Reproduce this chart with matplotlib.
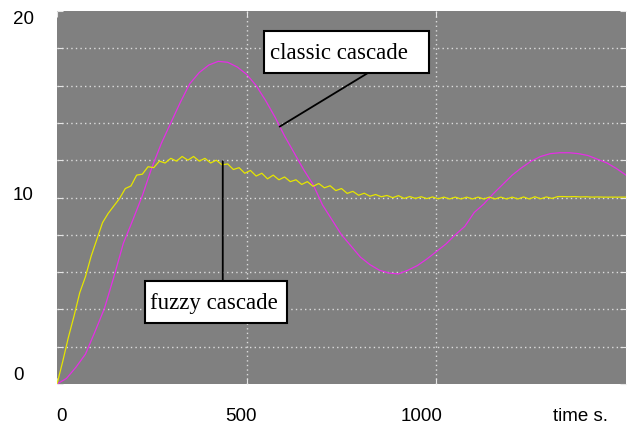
import matplotlib.pyplot as plt
from matplotlib.patches import Rectangle
import numpy as np

# classic cascade response (magenta)
t_classic = [0, 25, 50, 75, 100, 125, 150, 175, 200, 225, 250, 275, 300, 325, 350,
             375, 400, 425, 450, 475, 500, 525, 550, 575, 600, 625, 650, 675, 700,
             725, 750, 775, 800, 825, 850, 875, 900, 925, 950, 975, 1000, 1025,
             1050, 1075, 1100, 1125, 1150, 1175, 1200, 1225, 1250, 1275, 1300,
             1325, 1350, 1375, 1400, 1425, 1450, 1475, 1500]
y_classic = [0.0, 0.3, 0.9, 1.6, 2.8, 4.05, 5.75, 7.55, 8.8, 10.1, 11.6, 12.9, 14.0,
             15.1, 16.1, 16.7, 17.1, 17.3, 17.25, 17.0, 16.6, 16.0, 15.2, 14.3, 13.3,
             12.4, 11.5, 10.7, 9.6, 8.8, 8.0, 7.4, 6.8, 6.4, 6.1, 5.95, 5.9, 6.1,
             6.35, 6.7, 7.1, 7.5, 8.0, 8.45, 9.2, 9.65, 10.2, 10.7, 11.2, 11.6,
             11.95, 12.2, 12.35, 12.4, 12.4, 12.35, 12.25, 12.05, 11.85, 11.55, 11.2]

# fuzzy cascade response (yellow), one sample every 15 s
t_fuzzy = np.arange(0, 1501, 15)
y_fuzzy = [0.0, 1.2, 2.5, 3.65, 4.9, 5.75, 6.85, 7.75, 8.65, 9.15,
           9.55, 9.95, 10.48, 10.62, 11.2, 11.25, 11.65, 11.6, 11.95, 11.85,
           12.1, 11.95, 12.2, 12.0, 12.2, 11.95, 12.1, 11.85, 12.0, 11.75,
           11.8, 11.5, 11.6, 11.3, 11.45, 11.15, 11.3, 11.0, 11.2, 10.95,
           11.1, 10.85, 10.95, 10.7, 10.85, 10.6, 10.75, 10.52, 10.63, 10.37,
           10.48, 10.22, 10.33, 10.12, 10.23, 10.07, 10.16, 10.04, 10.11, 9.99,
           10.1, 9.95, 10.05, 9.95, 10.04, 9.94, 10.03, 9.93, 10.02, 9.92,
           10.02, 9.92, 10.02, 9.92, 10.02, 9.92, 10.02, 9.92, 10.02, 9.92,
           10.02, 9.92, 10.03, 9.92, 10.04, 9.93, 10.03, 9.95, 10.05, 10.05,
           10.04, 10.05, 10.03, 10.04, 10.02, 10.03, 10.02, 10.02, 10.02, 10.02,
           10.02]

x_ticks = [0, 500, 1000]
x_ticklabels = ['0', '500', '1000']
y_ticks = [0, 2, 4, 6, 8, 10, 12, 14, 16, 18, 20]

fig = plt.figure(figsize=(6.27, 4.28), dpi=100)
ax = fig.add_axes([0.0909, 0.1028, 0.9075, 0.8715])
ax.set_facecolor('#808080')

ax.plot(t_classic, y_classic, color='#e62ee6', lw=0.9, zorder=3)
ax.plot(t_fuzzy, y_fuzzy, color='#e6e600', lw=0.9, zorder=3)

ax.set_xlim(0, 1500)
ax.set_ylim(0, 20)
ax.set_xticks(x_ticks)
ax.set_yticks(y_ticks)
ax.grid(True, color='#dcdcdc', linestyle=(0, (1, 2.3)), linewidth=1.0, zorder=1)
# no grid on the frame edges
ax.xaxis.get_gridlines()[0].set_visible(False)
ax.yaxis.get_gridlines()[0].set_visible(False)
ax.yaxis.get_gridlines()[-1].set_visible(False)
ax.tick_params(direction='in', length=4, color='#e6e6e6', top=True, right=True,
               labelleft=False, labelbottom=False)
for s in ax.spines.values():
    s.set_visible(False)

# tick labels
tf = {'family': 'Liberation Sans', 'size': 13.5}
xlab = ax.get_xaxis_transform()
for xpos, lab in zip([11, 484, 960], x_ticklabels):
    ax.text(xpos, -0.088, lab, transform=xlab, ha='center', va='center', **tf)
ax.text(1381, -0.088, 'time s.', transform=xlab, ha='center', va='center', **tf)
ylab = ax.get_yaxis_transform()
ax.text(-0.0773, 20, '20', transform=ylab, ha='left', va='top', **tf)
ax.text(-0.0773, 10.1, '10', transform=ylab, ha='left', va='center', **tf)
ax.text(-0.0773, 0, '0', transform=ylab, ha='left', va='bottom', **tf)

# annotation boxes
bf = {'family': 'Liberation Serif', 'size': 16.5}
ax.add_patch(Rectangle((0.364, 0.834), 0.290, 0.112, transform=ax.transAxes,
                       fc='white', ec='black', lw=1.5, zorder=5))
ax.text(0.496, 0.885, 'classic cascade', transform=ax.transAxes,
        ha='center', va='center', zorder=6, **bf)
ax.annotate('', xy=(587, 13.8), xytext=(0.5466, 0.834), textcoords='axes fraction',
            arrowprops=dict(arrowstyle='-', color='black', lw=1.3,
                            shrinkA=0, shrinkB=0), zorder=4)

ax.add_patch(Rectangle((0.155, 0.164), 0.249, 0.112, transform=ax.transAxes,
                       fc='white', ec='black', lw=1.5, zorder=5))
ax.text(0.275, 0.215, 'fuzzy cascade', transform=ax.transAxes,
        ha='center', va='center', zorder=6, **bf)
ax.annotate('', xy=(437, 11.95), xytext=(437, 5.54),
            arrowprops=dict(arrowstyle='-', color='black', lw=1.3,
                            shrinkA=0, shrinkB=0), zorder=4)

fig.savefig('out.png', dpi=100)
